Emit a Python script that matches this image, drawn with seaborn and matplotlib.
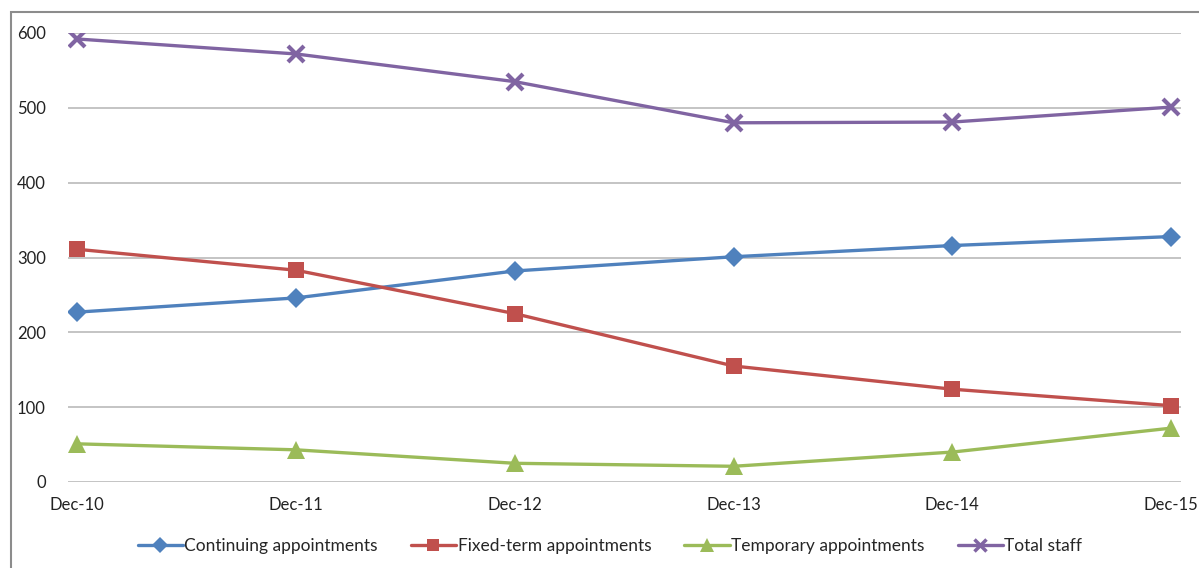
import matplotlib
matplotlib.use("Agg")
import matplotlib.pyplot as plt
import seaborn as sns
import pandas as pd
from matplotlib.patches import Rectangle
from matplotlib.lines import Line2D

periods = ["Dec-10", "Dec-11", "Dec-12", "Dec-13", "Dec-14", "Dec-15"]
continuing = [227, 246, 282, 301, 316, 328]
fixed_term = [311, 283, 225, 155, 124, 102]
temporary = [51, 43, 25, 21, 40, 72]
total_staff = [592, 572, 535, 480, 481, 501]

series_names = ["Continuing appointments", "Fixed-term appointments",
                "Temporary appointments", "Total staff"]
series_values = [continuing, fixed_term, temporary, total_staff]
colors = ["#4F81BD", "#C0504D", "#9BBB59", "#8064A2"]
markers = ["D", "s", "^", "x"]
msizes = [10.5, 11, 13, 11.5]

sns.set_theme(style="white")
plt.rcParams["font.family"] = ["Lato", "DejaVu Sans"]

fig = plt.figure(figsize=(11.99, 5.68), dpi=100)
ax = fig.add_axes([68 / 1199, 1 - 482 / 568, (1181 - 68) / 1199, (482 - 33) / 568])

# outer chart frame
fig.patches.append(Rectangle((11 / 1199, -0.1), 1.2, 1 - 12 / 568 + 0.1,
                             transform=fig.transFigure, fill=False,
                             edgecolor="#8c8c8c", linewidth=1.5))

rows = []
for name, vals in zip(series_names, series_values):
    for i, v in enumerate(vals):
        rows.append({"pos": i, "period": periods[i], "series": name, "value": v})
df = pd.DataFrame(rows)

for name, col, mk, ms in zip(series_names, colors, markers, msizes):
    sub = df[df["series"] == name]
    mew = 3 if mk == "x" else 0
    sns.lineplot(data=sub, x="pos", y="value", ax=ax, color=col, marker=mk,
                 markersize=ms, linewidth=2.4, legend=False,
                 markeredgewidth=mew, markeredgecolor=col, markerfacecolor=col)

ax.set_xlim(-0.042, 5.045)
ax.set_ylim(0, 600)
ax.set_yticks(range(0, 601, 100))
ax.set_xticks(range(len(periods)))
ax.set_xticklabels(periods)
ax.yaxis.grid(True, color="#b4b4b4", linewidth=1.1)
ax.set_axisbelow(True)
for s in ax.spines.values():
    s.set_visible(False)
ax.set_xlabel("")
ax.set_ylabel("")
ax.tick_params(axis="y", labelsize=12, pad=16, length=0, colors="#222222")
ax.tick_params(axis="x", labelsize=12, pad=11, length=0, colors="#222222")

handles = []
for name, col, mk, ms in zip(series_names, colors, markers, msizes):
    handles.append(Line2D([0], [0], color=col, marker=mk, linewidth=2.4,
                          markersize=ms * 0.75, markeredgecolor=col,
                          markeredgewidth=2.5 if mk == "x" else 0))
fig.legend(handles, series_names, loc="center", bbox_to_anchor=(610 / 1199, 1 - 546 / 568),
           ncol=4, frameon=False, fontsize=12.5, handlelength=2.6, handletextpad=0.1,
           columnspacing=1.9)

fig.savefig("out.png", dpi=100)
